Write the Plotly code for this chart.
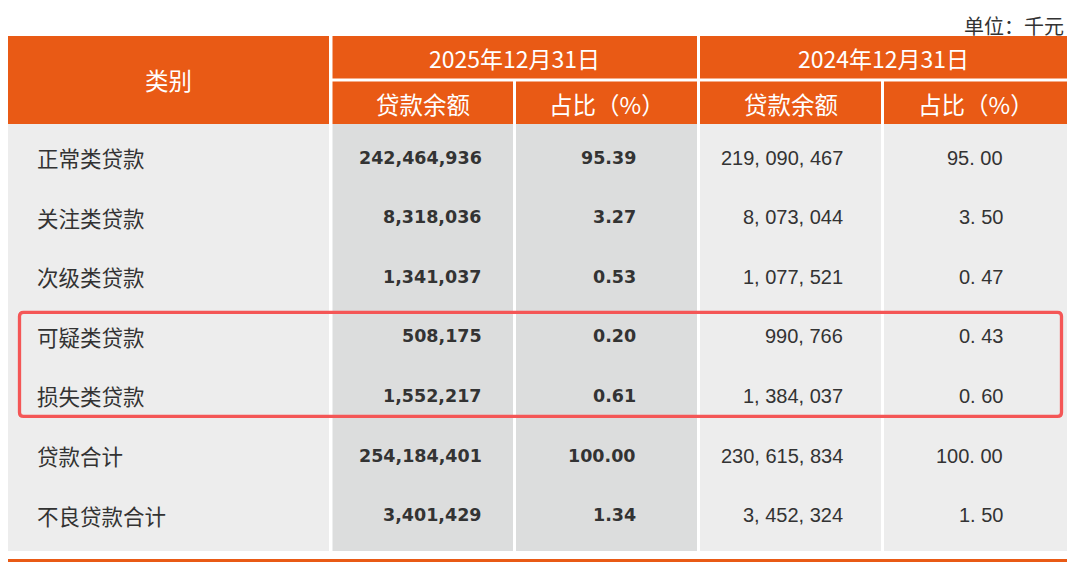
import plotly.graph_objects as go

# data (unit: thousand yuan)
categories = ["正常类贷款", "关注类贷款", "次级类贷款", "可疑类贷款", "损失类贷款", "贷款合计", "不良贷款合计"]
balance_2025 = [242464936, 8318036, 1341037, 508175, 1552217, 254184401, 3401429]
share_2025 = [95.39, 3.27, 0.53, 0.20, 0.61, 100.00, 1.34]
balance_2024 = [219090467, 8073044, 1077521, 990766, 1384037, 230615834, 3452324]
share_2024 = [95.00, 3.50, 0.47, 0.43, 0.60, 100.00, 1.50]

period_labels = ["2025年12月31日", "2024年12月31日"]
sub_labels = ["贷款余额", "占比（%）"]
first_header = "类别"
unit_note = "单位：千元"
highlight_rows = [3, 4]  # 可疑类 / 损失类

# layout (pixel space of the 1080x567 window)
W, H = 1080, 567
PAGE_PAD = 8  # default body margin of the html page, the plot div starts here
cols = [(7, 329), (332.5, 513), (516, 697), (700, 881), (884, 1067)]
head_top, head_mid_a, head_mid_b, head_bot = 36, 78.5, 81.5, 124
body_bot = 551
row_y0, row_step = 157.5, 59.6
text_right = [None, 483.5, 638, 845, 1005]

ORANGE = "#E95A15"
GRAY = "#EDEDED"
GRAY_DARK = "#DCDDDD"
RED = "#F45656"
TXT = "#333333"
CJK = "Noto Sans CJK SC"

fig = go.Figure()
shapes = []
ann = []


def rect(x0, y0, x1, y1, color):
    shapes.append(dict(type="rect", xref="x", yref="y", x0=x0, y0=y0, x1=x1, y1=y1,
                       fillcolor=color, line=dict(width=0), layer="below"))


# header blocks
rect(cols[0][0], head_top, cols[0][1], head_bot, ORANGE)
for i, p in enumerate(period_labels):
    a, b = cols[1 + 2 * i], cols[2 + 2 * i]
    rect(a[0], head_top, b[1], head_mid_a, ORANGE)
    ann.append(dict(x=(a[0] + b[1]) / 2, y=(head_top + head_mid_a) / 2 + 1, text=p,
                    font=dict(family=CJK, size=23, color="white")))
    for c, s in zip((a, b), sub_labels):
        rect(c[0], head_mid_b, c[1], head_bot, ORANGE)
        ann.append(dict(x=(c[0] + c[1]) / 2, y=(head_mid_b + head_bot) / 2 + 1, text=s,
                        font=dict(family=CJK, size=23.5, color="white")))
ann.append(dict(x=(cols[0][0] + cols[0][1]) / 2, y=(head_top + head_bot) / 2, text=first_header,
                font=dict(family=CJK, size=23.5, color="white")))

# body columns
for i, c in enumerate(cols):
    rect(c[0], head_bot, c[1], body_bot, GRAY_DARK if i in (1, 2) else GRAY)

# bottom rule
rect(cols[0][0], 559, cols[-1][1], 562, ORANGE)

# cell text
for r, name in enumerate(categories):
    y = row_y0 + r * row_step
    ann.append(dict(x=35, y=y, text=name, xanchor="left",
                    font=dict(family=CJK, size=21.5, color=TXT)))
    ann.append(dict(x=text_right[1], y=y, text=f"{balance_2025[r]:,}", xanchor="right",
                    font=dict(family="DejaVu Sans", size=17.5, color=TXT, weight="bold")))
    ann.append(dict(x=text_right[2], y=y, text=f"{share_2025[r]:.2f}", xanchor="right",
                    font=dict(family="DejaVu Sans", size=17.5, color=TXT, weight="bold")))
    ann.append(dict(x=text_right[3], y=y, text=f"{balance_2024[r]:,}".replace(",", ", "), xanchor="right",
                    font=dict(family="Liberation Sans", size=20, color=TXT)))
    ann.append(dict(x=text_right[4], y=y, text=f"{share_2024[r]:.2f}".replace(".", ". "), xanchor="right",
                    font=dict(family="Liberation Sans", size=20, color=TXT)))

ann.append(dict(x=1066, y=PAGE_PAD + 1, text=unit_note, xanchor="right", yanchor="top",
                font=dict(family=CJK, size=20, color=TXT)))

# red highlight box around the doubtful / loss rows
bx0, bx1 = 19.5, 1061.5
by0 = row_y0 + highlight_rows[0] * row_step - 24
by1 = row_y0 + highlight_rows[-1] * row_step + 20.5
rr = 4
box_path = (f"M{bx0 + rr},{by0} L{bx1 - rr},{by0} Q{bx1},{by0} {bx1},{by0 + rr} "
            f"L{bx1},{by1 - rr} Q{bx1},{by1} {bx1 - rr},{by1} L{bx0 + rr},{by1} "
            f"Q{bx0},{by1} {bx0},{by1 - rr} L{bx0},{by0 + rr} Q{bx0},{by0} {bx0 + rr},{by0} Z")
shapes.append(dict(type="path", xref="x", yref="y", path=box_path,
                   line=dict(color=RED, width=3.3), layer="above"))

for a in ann:
    a.update(xref="x", yref="y", showarrow=False)
    a.setdefault("xanchor", "center")
    a.setdefault("yanchor", "middle")

fig.update_layout(
    width=W - PAGE_PAD, height=H - PAGE_PAD,
    margin=dict(l=0, r=0, t=0, b=0),
    paper_bgcolor="white", plot_bgcolor="white",
    xaxis=dict(range=[PAGE_PAD, W], visible=False, fixedrange=True),
    yaxis=dict(range=[H, PAGE_PAD], visible=False, fixedrange=True),
    shapes=shapes, annotations=ann, showlegend=False,
)

fig.write_html("out.html")
